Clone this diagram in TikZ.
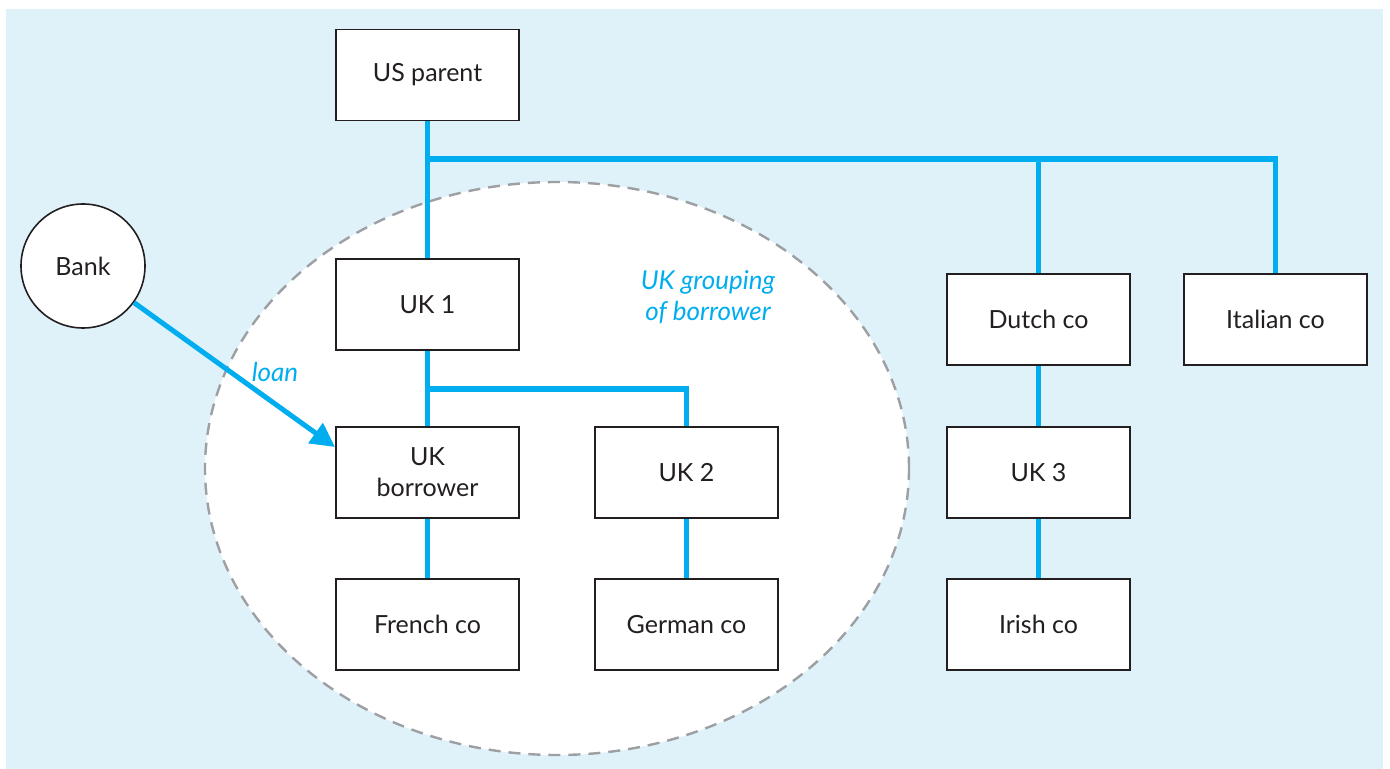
\documentclass[tikz,border=0pt]{standalone}
\usepackage{fontspec}
\setmainfont{Lato}
\usetikzlibrary{arrows.meta,shapes.geometric}
\definecolor{bgblue}{HTML}{DFF2FA}
\definecolor{lineblue}{HTML}{00AEEF}
\definecolor{txtgray}{HTML}{231F20}
\definecolor{dashgray}{HTML}{9D9FA2}
\pgfdeclarelayer{bglow}
\pgfdeclarelayer{bgconn}
\pgfsetlayers{bglow,bgconn,main}
\tikzset{
  box/.style={draw=txtgray, line width=0.8pt, fill=white, minimum width=91.5pt, minimum height=45.5pt, inner sep=0pt, align=center, text=txtgray, font=\fontsize{12.5}{15.5}\selectfont},
  conn/.style={draw=lineblue, line width=2.6pt},
  bluelabel/.style={text=lineblue, font=\fontsize{13}{15.5}\selectfont\itshape, align=center, inner sep=0pt}
}
\begin{document}
\begin{tikzpicture}[x=0.5pt,y=-0.5pt]
\useasboundingbox (0,0) rectangle (1390,769);
% nodes
\node[box] (us) at (427.5,75) {US parent};
\node[box] (uk1) at (427.5,304.5) {UK 1};
\node[box] (ukb) at (427.5,472.5) {UK\\borrower};
\node[box] (uk2) at (686.5,472.5) {UK 2};
\node[box] (fr) at (427.5,624.5) {French co};
\node[box] (de) at (686.5,624.5) {German co};
\node[box] (nl) at (1038.5,319.5) {Dutch co};
\node[box] (it) at (1275.5,319.5) {Italian co};
\node[box] (uk3) at (1038.5,472.5) {UK 3};
\node[box] (ie) at (1038.5,624.5) {Irish co};
\node[circle, draw=txtgray, line width=0.8pt, fill=white, minimum size=62pt, inner sep=0pt, text=txtgray, font=\fontsize{12.5}{15.5}\selectfont] (bank) at (83,266) {Bank};
\node[bluelabel] (loanlbl) at (275,372) {loan};
\node[bluelabel] (grplbl) at (708,297) {UK grouping\\of borrower};
\coordinate (j1) at (428,159);
\coordinate (j2) at (428,389);
\coordinate (tip) at (335,447);
\begin{pgfonlayer}{bglow}
\fill[bgblue] (6,9) rectangle (1383,769);
\node[ellipse, draw=dashgray, line width=1.2pt, dash pattern=on 6pt off 4pt, fill=white, minimum width=352pt, minimum height=286.5pt, inner sep=0pt] (grp) at (557,468.5) {};
\end{pgfonlayer}
\begin{pgfonlayer}{bgconn}
\draw[conn] (us.south) -- (uk1.north);
\draw[conn] (j1) -| (nl.north);
\draw[conn] (j1) -| (it.north);
\draw[conn] (uk1.south) -- (ukb.north);
\draw[conn] (j2) -| (uk2.north);
\draw[conn] (ukb.south) -- (fr.north);
\draw[conn] (uk2.south) -- (de.north);
\draw[conn] (nl.south) -- (uk3.north);
\draw[conn] (uk3.south) -- (ie.north);
\end{pgfonlayer}
\draw[conn, line width=2.5pt, -{Triangle[length=12pt,width=12pt]}] (bank) -- (tip);
\end{tikzpicture}
\end{document}
